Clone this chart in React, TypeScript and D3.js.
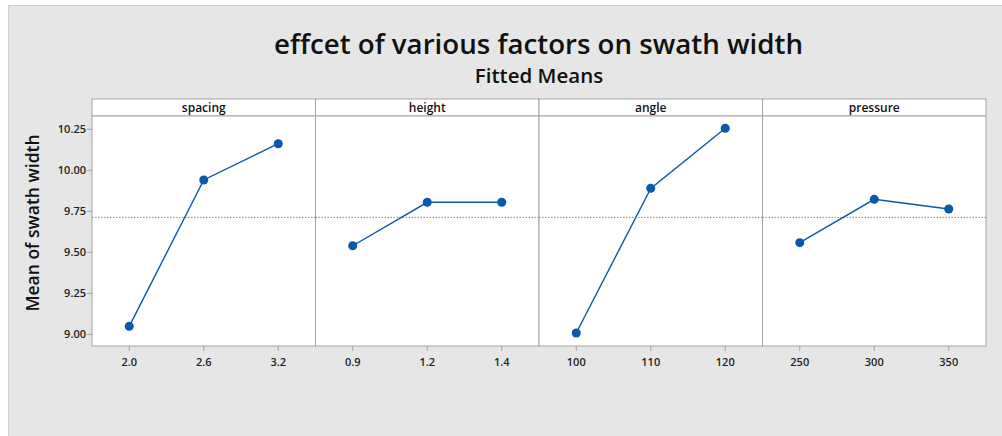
import React from "react";
import * as d3 from "d3";

const factors = ["spacing", "height", "angle", "pressure"];
const spacingLevels = ["2.0", "2.6", "3.2"];
const spacingMeans = [9.049, 9.941, 10.162];
const heightLevels = ["0.9", "1.2", "1.4"];
const heightMeans = [9.54, 9.805, 9.805];
const angleLevels = ["100", "110", "120"];
const angleMeans = [9.008, 9.89, 10.256];
const pressureLevels = ["250", "300", "350"];
const pressureMeans = [9.559, 9.823, 9.764];
const yTicks = [9.0, 9.25, 9.5, 9.75, 10.0, 10.25];
const grandMean = 9.713;

const title = "effcet of various factors on swath width";
const subtitle = "Fitted Means";
const yLabel = "Mean of swath width";

const levelsByFactor = [spacingLevels, heightLevels, angleLevels, pressureLevels];
const meansByFactor = [spacingMeans, heightMeans, angleMeans, pressureMeans];

const W = 1002;
const H = 436;
const left = 92;
const right = 986;
const top = 116;
const bottom = 346;
const stripTop = 99;
const FONT = "'Open Sans', 'Noto Sans', sans-serif";
const BLUE = "#0a58a8";
const BORDER = "#a3a3a3";

export default function App() {
  const panelX = d3.scaleBand<string>().domain(factors).range([left, right]).paddingInner(0).paddingOuter(0);
  const y = d3.scaleLinear().domain([8.929, 10.331]).range([bottom, top]);
  const pw = panelX.bandwidth();
  const fmt = d3.format(".2f");

  return (
    <svg width={W} height={H} style={{ position: "absolute", left: 0, top: 0, background: "#fff" }} fontFamily={FONT}>
      <rect x={8.5} y={5.5} width={W} height={H} fill="#e6e6e6" stroke="#cfcfcf" />
      <text x={538.5} y={54} textAnchor="middle" fontSize={27.5} fontWeight={600} fill="#111" textLength={529} lengthAdjust="spacingAndGlyphs">{title}</text>
      <text x={539} y={83} textAnchor="middle" fontSize={20.5} fontWeight={600} fill="#111">{subtitle}</text>
      <text transform={`translate(39,223) rotate(-90)`} textAnchor="middle" fontSize={17.5} fontWeight={600} fill="#111">{yLabel}</text>

      {factors.map((f, i) => {
        const x0 = panelX(f)!;
        const xs = d3.scalePoint<string>().domain(levelsByFactor[i]).range([x0, x0 + pw]).padding(0.5);
        const pts: [number, number][] = levelsByFactor[i].map((l, j) => [xs(l)!, y(meansByFactor[i][j])]);
        const line = d3.line()(pts);
        return (
          <g key={f}>
            <rect x={x0} y={stripTop} width={pw} height={top - stripTop} fill="#fff" stroke={BORDER} />
            <text x={x0 + pw / 2} y={112} textAnchor="middle" fontSize={12} fontWeight={600} fill="#111">{f}</text>
            <rect x={x0} y={top} width={pw} height={bottom - top} fill="#fff" stroke={BORDER} />
            <line x1={x0} x2={x0 + pw} y1={y(grandMean)} y2={y(grandMean)} stroke="#888" strokeDasharray="1.5,1.5" strokeWidth={1} />
            {levelsByFactor[i].map((l) => (
              <g key={l}>
                <line x1={xs(l)} x2={xs(l)} y1={bottom} y2={bottom + 5} stroke={BORDER} />
                <text x={xs(l)} y={366} textAnchor="middle" fontSize={11} fontWeight={600} fill="#222">{l}</text>
              </g>
            ))}
            <path d={line!} fill="none" stroke={BLUE} strokeWidth={1.4} />
            {pts.map((p, j) => (
              <circle key={j} cx={p[0]} cy={p[1]} r={4.5} fill={BLUE} />
            ))}
          </g>
        );
      })}

      {yTicks.map((t) => (
        <g key={t}>
          <line x1={left - 5} x2={left} y1={y(t)} y2={y(t)} stroke={BORDER} />
          <text x={left - 6} y={y(t) + 4} textAnchor="end" fontSize={11} fontWeight={600} fill="#222">{fmt(t)}</text>
        </g>
      ))}
    </svg>
  );
}
